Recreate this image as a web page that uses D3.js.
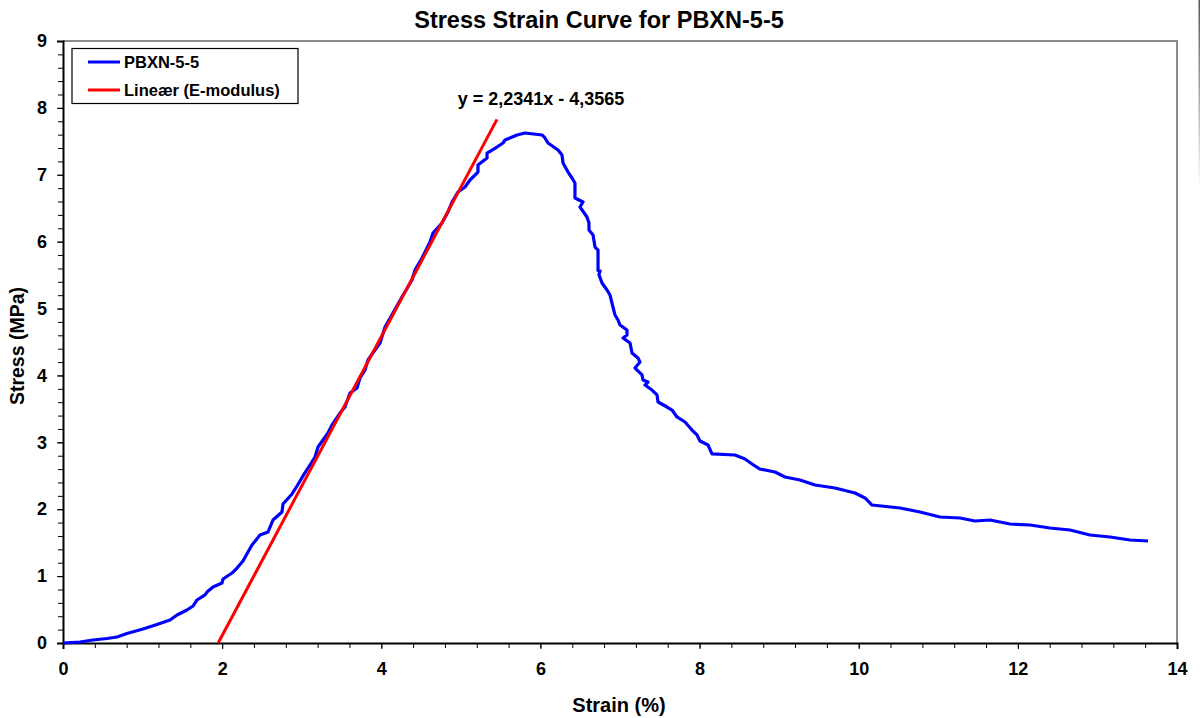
<!DOCTYPE html>
<html><head><meta charset="utf-8">
<script src="https://cdn.jsdelivr.net/npm/d3@7"></script>
<style>body{margin:0;background:#fff}svg{display:block;font-family:"Liberation Sans",Arial,sans-serif}</style>
</head><body><svg id="c" width="1200" height="718"></svg>
<script>
const strain = [0,0.214,0.377,0.553,0.679,0.804,1.005,1.181,1.345,1.433,1.558,1.634,1.684,1.785,1.810,1.885,1.998,2.011,2.124,2.187,2.262,2.325,2.375,2.476,2.576,2.639,2.752,2.765,2.878,2.941,3.016,3.104,3.167,3.205,3.330,3.381,3.481,3.544,3.607,3.695,3.732,3.795,3.833,3.921,3.984,4.047,4.147,4.260,4.386,4.424,4.512,4.612,4.650,4.763,4.838,4.889,4.964,5.052,5.115,5.215,5.215,5.329,5.329,5.454,5.530,5.555,5.706,5.806,6.020,6.057,6.095,6.221,6.271,6.284,6.347,6.397,6.434,6.434,6.535,6.497,6.585,6.610,6.610,6.661,6.686,6.724,6.724,6.750,6.735,6.774,6.837,6.874,6.899,6.937,6.975,7.000,7.088,7.088,7.038,7.126,7.151,7.226,7.251,7.189,7.277,7.289,7.352,7.314,7.402,7.465,7.478,7.591,7.654,7.716,7.817,7.905,7.968,8.005,8.106,8.156,8.445,8.571,8.659,8.759,8.948,9.074,9.262,9.451,9.702,9.953,10.079,10.167,10.519,10.770,11.021,11.273,11.461,11.650,11.901,12.153,12.404,12.655,12.907,13.158,13.409,13.636];
const stress = [0,0.015,0.045,0.067,0.090,0.142,0.209,0.277,0.344,0.419,0.493,0.553,0.643,0.718,0.762,0.837,0.897,0.957,1.046,1.121,1.226,1.360,1.465,1.615,1.659,1.839,1.958,2.078,2.228,2.347,2.497,2.661,2.781,2.930,3.140,3.259,3.438,3.528,3.738,3.812,3.962,4.081,4.231,4.380,4.485,4.724,4.933,5.173,5.427,5.576,5.756,5.995,6.129,6.279,6.443,6.593,6.742,6.817,6.922,7.041,7.146,7.251,7.325,7.415,7.475,7.520,7.595,7.625,7.595,7.550,7.475,7.370,7.296,7.176,7.041,6.952,6.877,6.653,6.593,6.518,6.369,6.279,6.174,6.100,5.920,5.875,5.570,5.560,5.510,5.382,5.277,5.203,5.083,4.904,4.829,4.754,4.679,4.605,4.560,4.485,4.335,4.261,4.201,4.111,4.007,3.932,3.902,3.857,3.782,3.708,3.603,3.528,3.483,3.379,3.304,3.184,3.110,3.020,2.960,2.826,2.811,2.751,2.676,2.601,2.556,2.482,2.437,2.362,2.317,2.243,2.168,2.063,2.018,1.958,1.884,1.869,1.824,1.839,1.779,1.764,1.719,1.689,1.615,1.585,1.540,1.525];
const slope = 2.2341, intercept = -4.3565;
const fitStrain = [-intercept/slope, 5.454];
const xTicks = [0,2,4,6,8,10,12,14];
const yTicks = [0,1,2,3,4,5,6,7,8,9];
const title = "Stress Strain Curve for PBXN-5-5";
const seriesName = "PBXN-5-5";
const fitName = "Lineær (E-modulus)";
const eqLabel = "y = 2,2341x - 4,3565";

const svg = d3.select("#c");
const L=63, R=1177, T=41, B=643;
const x = d3.scaleLinear().domain([0,14]).range([L,R]);
const y = d3.scaleLinear().domain([0,9]).range([B,T]);

// faint edge line at right
const g0 = svg.append("defs").append("linearGradient").attr("id","fade").attr("x1",0).attr("y1",0).attr("x2",0).attr("y2",1);
g0.append("stop").attr("offset","0%").attr("stop-color","#555");
g0.append("stop").attr("offset","100%").attr("stop-color","#fff");
svg.append("rect").attr("x",1198.5).attr("y",0).attr("width",1.5).attr("height",190).attr("fill","url(#fade)");

// frame top/right
svg.append("path").attr("d",`M${L},${T}H${R}V${B}`).attr("fill","none").attr("stroke","#8c8c8c").attr("stroke-width",2);

// axes
const xMinor = d3.range(0,14.001,0.4);
const yMinor = d3.range(0,9.001,0.2);
const gx = svg.append("g").attr("transform",`translate(0,${B})`);
gx.call(d3.axisBottom(x).tickValues(xMinor).tickSize(5).tickFormat(""));
gx.select(".domain").remove();
const gx2 = svg.append("g").attr("transform",`translate(0,${B})`)
  .call(d3.axisBottom(x).tickValues(xTicks).tickSize(6).tickPadding(13).tickFormat(d3.format("d")));
gx2.selectAll("text").attr("font-size",18).attr("font-weight","bold").attr("fill","#000").attr("font-family","Liberation Sans, Arial");
gx2.select(".domain").attr("stroke","#000").attr("stroke-width",2);

const gy = svg.append("g").attr("transform",`translate(${L},0)`);
gy.call(d3.axisLeft(y).tickValues(yMinor).tickSize(5).tickFormat(""));
gy.select(".domain").remove();
const gy2 = svg.append("g").attr("transform",`translate(${L},0)`)
  .call(d3.axisLeft(y).tickValues(yTicks).tickSize(6).tickPadding(10).tickFormat(d3.format("d")));
gy2.selectAll("text").attr("font-size",18).attr("font-weight","bold").attr("fill","#000").attr("font-family","Liberation Sans, Arial");
gy2.select(".domain").attr("stroke","#000").attr("stroke-width",2);

// data line
const line = d3.line().x((d,i)=>x(strain[i])).y((d,i)=>y(stress[i]));
svg.append("path").attr("d",line(strain)).attr("fill","none").attr("stroke","#0000ff").attr("stroke-width",3.2).attr("stroke-linejoin","round");

// fit line
const fit = d3.line().x(d=>x(d)).y(d=>y(slope*d+intercept));
svg.append("path").attr("d",fit(fitStrain)).attr("fill","none").attr("stroke","#ff0000").attr("stroke-width",3);

// equation
svg.append("text").attr("x",541).attr("y",105).attr("text-anchor","middle").attr("font-size",18).attr("font-weight","bold").text(eqLabel);

// title
svg.append("text").attr("x",599).attr("y",28).attr("text-anchor","middle").attr("font-size",23.5).attr("font-weight","bold").text(title);
// axis titles
svg.append("text").attr("x",619).attr("y",712).attr("text-anchor","middle").attr("font-size",20).attr("font-weight","bold").text("Strain (%)");
svg.append("text").attr("transform","translate(24,346) rotate(-90)").attr("text-anchor","middle").attr("font-size",19.5).attr("font-weight","bold").text("Stress (MPa)");

// legend
const lg = svg.append("g");
lg.append("rect").attr("x",72).attr("y",48.5).attr("width",226).attr("height",55).attr("fill","#fff").attr("stroke","#000").attr("stroke-width",1.2);
[[seriesName,"#0000ff",62],[fitName,"#ff0000",90]].forEach(([t,c,yy])=>{
  lg.append("line").attr("x1",88).attr("x2",120).attr("y1",yy).attr("y2",yy).attr("stroke",c).attr("stroke-width",3);
  lg.append("text").attr("x",124).attr("y",yy+6).attr("font-size",16.5).attr("font-weight","bold").text(t);
});
</script></body></html>
